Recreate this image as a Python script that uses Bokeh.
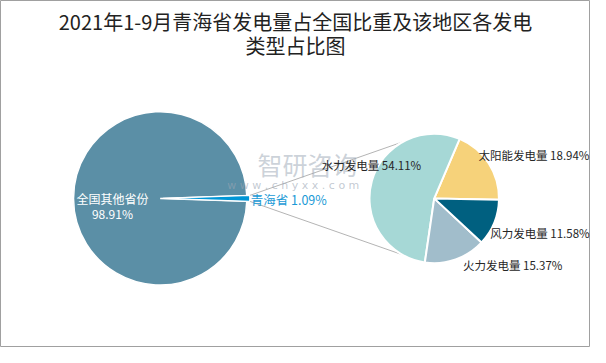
import math
from bokeh.plotting import figure
from bokeh.models import Range1d, ColumnDataSource
from bokeh.core.properties import value
from bokeh.embed import file_html
from bokeh.resources import INLINE

# ---------------- data ----------------
title_lines = ["2021年1-9月青海省发电量占全国比重及该地区各发电", "类型占比图"]
main_labels = ["全国其他省份", "青海省"]
main_values = [98.91, 1.09]
sub_labels = ["太阳能发电量", "水力发电量", "火力发电量", "风力发电量"]
sub_values = [18.94, 54.11, 15.37, 11.58]

# ---------------- layout / style ----------------
FONT = "Noto Sans CJK SC"
REF_W, REF_H = 606, 363
W, H = 590, 347


def Y(py):
    return REF_H - py


main_colors = ["#5b8fa6", "#0096d6"]
sub_colors = ["#f6d27a", "#a6d8d6", "#a1bdcb", "#006080"]

p = figure(width=W, height=H, x_range=Range1d(0, REF_W), y_range=Range1d(0, REF_H),
           output_backend="svg", toolbar_location=None, x_axis_type=None, y_axis_type=None,
           min_border=0)
p.grid.visible = False
p.outline_line_color = "#a0a0a0"
p.outline_line_width = 1
p.background_fill_color = "white"
p.border_fill_color = "white"

# main pie geometry
mcx, mcy, mr = 164.0, Y(207), 89.0
explode = 3.0
tot_main = sum(main_values)
half = math.pi * main_values[1] / tot_main

# secondary pie geometry
scx, scy, sr = 445.5, Y(207), 66.5
s_start = math.radians(-1.3)

# connector lines (from small-slice corners, tangent to secondary pie)
pts = [(mcx + explode + mr * math.cos(half), mcy + mr * math.sin(half)),
       (mcx + explode + mr * math.cos(-half), mcy + mr * math.sin(-half))]
xs, ys = [], []
for i, (px, py) in enumerate(pts):
    d = math.hypot(px - scx, py - scy)
    phi = math.atan2(py - scy, px - scx)
    a = math.acos(sr / d)
    ang = phi - a if i == 0 else phi + a
    xs.append([px, scx + sr * math.cos(ang)])
    ys.append([py, scy + sr * math.sin(ang)])
p.multi_line(xs=xs, ys=ys, line_color="#b4b4b4", line_width=1)

# main pie wedges
p.wedge(x=[mcx], y=[mcy], radius=mr, start_angle=[half], end_angle=[2 * math.pi - half],
        fill_color=main_colors[0], line_color="white", line_width=1.5)
p.wedge(x=[mcx + explode], y=[mcy], radius=mr, start_angle=[-half], end_angle=[half],
        fill_color=main_colors[1], line_color="white", line_width=1.2)

# secondary pie wedges
tot_sub = sum(sub_values)
starts, ends = [], []
acc = s_start
for v in sub_values:
    starts.append(acc)
    acc += 2 * math.pi * v / tot_sub
    ends.append(acc)
src = ColumnDataSource(dict(start=starts, end=ends, color=sub_colors))
p.wedge(x=scx, y=scy, radius=sr, start_angle="start", end_angle="end", fill_color="color",
        line_color="white", line_width=2, source=src)

# watermark
p.text(x=[264], y=[Y(171)], text=["智研咨询"], text_font=value(FONT), text_font_size="25px",
       text_color="#9aa6b4", text_alpha=0.5, text_baseline="middle", text_align="left")
p.text(x=[233], y=[Y(194)], text=["w w w . c h y x x . c o m"], text_font=value("DejaVu Sans"),
       text_font_size="11px", text_color="#9aa6b4", text_alpha=0.6, text_baseline="middle",
       text_align="left")

# main pie labels
p.text(x=[115, 115], y=[Y(207), Y(223)], text=[main_labels[0], f"{main_values[0]:.2f}%"],
       text_font=value(FONT), text_font_size="12px", text_color="white",
       text_baseline="middle", text_align="center")
p.text(x=[257], y=[Y(208)], text=[f"{main_labels[1]} {main_values[1]:.2f}%"],
       text_font=value(FONT), text_font_size="12.5px", text_color="#1a9ad6",
       text_baseline="middle", text_align="left")

# secondary pie labels (offsets from pie centre)
lab_off = [(45.5, 45), (-115.5, 35), (29.5, -70), (57.5, -36)]
p.text(x=[scx + o[0] for o in lab_off], y=[scy + o[1] for o in lab_off],
       text=[f"{l} {v:.2f}%" for l, v in zip(sub_labels, sub_values)],
       text_font=value(FONT), text_font_size="11.5px", text_color="#262626",
       text_baseline="middle", text_align="left")

# title
p.text(x=[303, 303], y=[Y(22), Y(47)], text=title_lines, text_font=value(FONT),
       text_font_size="20px", text_color="#222222", text_baseline="middle", text_align="center")

open("out.html", "w").write(file_html(p, INLINE))
